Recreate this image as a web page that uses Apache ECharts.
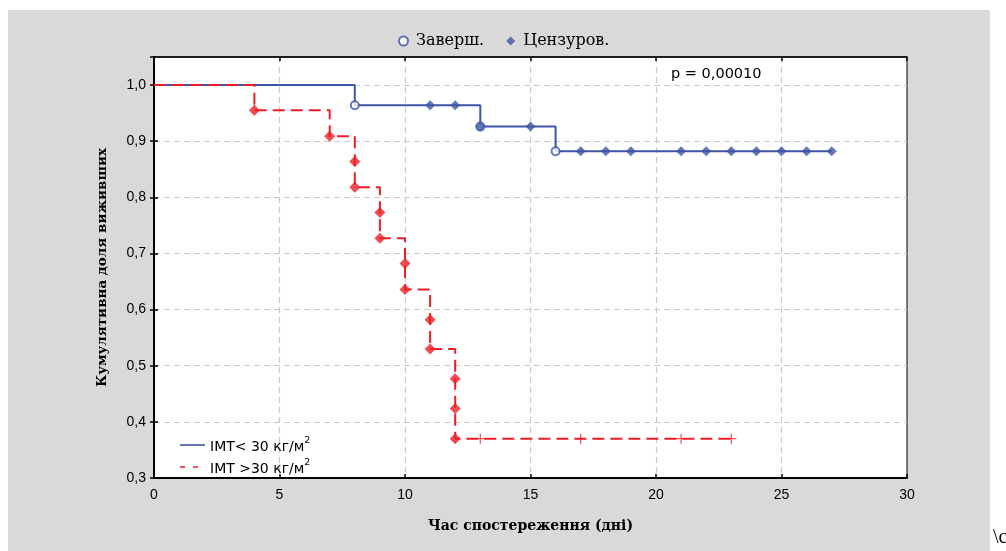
<!DOCTYPE html>
<html>
<head>
<meta charset="utf-8">
<script src="https://cdn.jsdelivr.net/npm/echarts@6/dist/echarts.min.js"></script>
<style>
html,body{margin:0;padding:0;background:#fff;}
#chart{width:1006px;height:551px;}
</style>
</head>
<body>
<div id="chart"></div>
<script>
// ---- data ----
var xTicks = [0, 5, 10, 15, 20, 25, 30];
var yTicks = [0.3, 0.4, 0.5, 0.6, 0.7, 0.8, 0.9, 1.0];

// group IMT < 30: step curve (time, survival)
var lowStep = [[0, 1.0], [8, 0.964], [13, 0.926], [16, 0.882], [27, 0.882]];
var lowEvents = [[8, 0.964], [13, 0.926], [16, 0.882]];
var lowCensored = [[11, 0.964], [12, 0.964], [13, 0.926], [15, 0.926],
  [17, 0.882], [18, 0.882], [19, 0.882], [21, 0.882], [22, 0.882], [23, 0.882],
  [24, 0.882], [25, 0.882], [26, 0.882], [27, 0.882]];

// group IMT > 30
var highStep = [[0, 1.0], [4, 0.955], [7, 0.909], [8, 0.818], [9, 0.727],
  [10, 0.636], [11, 0.530], [12, 0.370], [23, 0.370]];
var highEvents = [[4, 0.955], [7, 0.909], [8, 0.864], [8, 0.818], [9, 0.773],
  [9, 0.727], [10, 0.682], [10, 0.636], [11, 0.582], [11, 0.530],
  [12, 0.477], [12, 0.424], [12, 0.370]];
var highCensored = [[13, 0.370], [17, 0.370], [21, 0.370], [23, 0.370]];

var pText = 'p = 0,00010';

// ---- style ----
var BLUE = '#3d55a5';
var RED = '#ec1f27';
var GRID = '#c9c9c9';
var SANS = '"Liberation Sans", Arial, sans-serif';
var WSANS = '"DejaVu Sans", "Liberation Sans", sans-serif';
var SERIF = '"DejaVu Serif", "Liberation Serif", serif';
var plusPath = 'path://M0,4.4H10V5.6H0Z M4.4,0H5.6V10H4.4Z';
var solidIcon = 'path://M0,0H25V1.6H0Z';
var dashIcon = 'path://M0,0H5V1.6H0Z M13,0H18V1.6H13Z M24.9,0H25V1.6H24.9Z';

var chart = echarts.init(document.getElementById('chart'), null, {renderer: 'canvas'});

function fmtY(v) {
  return (Math.round(v * 10) / 10).toFixed(1).replace('.', ',');
}

var splitStyle = {show: true, showMinLine: false, showMaxLine: false,
  lineStyle: {color: GRID, width: 1.2, type: [6, 4]}};

var option = {
  backgroundColor: '#ffffff',
  animation: false,
  graphic: [
    {type: 'rect', z: -10, silent: true, shape: {x: 8, y: 10, width: 982, height: 541}, style: {fill: '#d9d9d9'}},
    {type: 'text', left: 671, top: 67, z: 10, style: {text: pText, font: '14.5px ' + WSANS, fill: '#000'}},
    {type: 'text', left: 993, top: 528, z: 10, style: {text: '\\с', font: '20px "Liberation Serif", serif', fill: '#000'}}
  ],
  legend: [
    {
      data: [
        {name: 'Заверш.', icon: 'circle', itemStyle: {color: '#fff', borderColor: BLUE, borderWidth: 2}},
        {name: 'Цензуров.', icon: 'diamond', itemStyle: {color: BLUE}}
      ],
      left: 393, top: 28,
      itemWidth: 9, itemHeight: 9, itemGap: 22,
      textStyle: {fontFamily: SERIF, fontSize: 16, color: '#000', padding: [0, 0, 0, 3]}
    },
    {
      data: [
        {name: 'IMT< 30 кг/м2', icon: solidIcon},
        {name: 'IMT >30 кг/м2', icon: dashIcon}
      ],
      orient: 'vertical',
      left: 175, top: 431,
      itemWidth: 25, itemHeight: 1.6, itemGap: 4,
      formatter: function (name) {
        return '{a|' + name.slice(0, -1) + '}{s|2}';
      },
      textStyle: {
        fontFamily: WSANS, fontSize: 14, color: '#000', padding: [0, 0, 0, 0],
        rich: {
          a: {fontFamily: WSANS, fontSize: 14, color: '#000', lineHeight: 18, verticalAlign: 'bottom'},
          s: {fontFamily: WSANS, fontSize: 9.5, color: '#000', lineHeight: 18, verticalAlign: 'top'}
        }
      }
    }
  ],
  grid: {
    left: 154, right: 99, top: 57, bottom: 73,
    show: true, backgroundColor: '#ffffff', borderColor: '#000', borderWidth: 1
  },
  xAxis: [
    {
      type: 'value', min: xTicks[0], max: xTicks[xTicks.length - 1], interval: 5,
      name: 'Час спостереження (дні)', nameLocation: 'middle', nameGap: 41,
      nameTextStyle: {fontFamily: SERIF, fontSize: 14, fontWeight: 'bold', color: '#000'},
      axisLine: {show: true, lineStyle: {color: '#000', width: 2}},
      axisTick: {show: true, inside: true, length: 4, lineStyle: {color: '#000', width: 1.5}},
      axisLabel: {fontFamily: SANS, fontSize: 14, color: '#000', margin: 10},
      splitLine: splitStyle
    },
    {
      type: 'value', position: 'top', min: 0, max: 30, interval: 5,
      axisLine: {show: true, lineStyle: {color: '#000', width: 1.5}},
      axisTick: {show: true, inside: true, length: 4, lineStyle: {color: '#000', width: 1.5}},
      axisLabel: {show: false}, splitLine: {show: false}
    }
  ],
  yAxis: [
    {
      type: 'value', min: yTicks[0], max: 1.05, interval: 0.1,
      name: 'Кумулятивна доля виживших', nameLocation: 'middle', nameGap: 45,
      nameTextStyle: {fontFamily: SERIF, fontSize: 13.5, fontWeight: 'bold', color: '#000'},
      axisLine: {show: true, lineStyle: {color: '#000', width: 2}},
      axisTick: {show: true, inside: true, length: 4, lineStyle: {color: '#000', width: 1.5}},
      axisLabel: {
        fontFamily: SANS, fontSize: 14, color: '#000', margin: 8, showMaxLabel: false,
        formatter: fmtY
      },
      splitLine: splitStyle
    },
    {
      type: 'value', position: 'right', min: 0.3, max: 1.05, interval: 0.1,
      axisLine: {show: true, lineStyle: {color: '#000', width: 2}},
      axisTick: {show: true, inside: true, length: 4, lineStyle: {color: '#000', width: 1.5}},
      axisLabel: {show: false}, splitLine: {show: false}
    }
  ],
  series: [
    {
      name: 'IMT< 30 кг/м2', type: 'line', step: 'end', data: lowStep,
      symbol: 'none', color: BLUE, lineStyle: {color: BLUE, width: 2}, z: 3
    },
    {
      name: 'IMT >30 кг/м2', type: 'line', step: 'end', data: highStep,
      symbol: 'none', color: RED, lineStyle: {color: RED, width: 2, type: [12, 6]}, z: 3
    },
    {
      name: 'Заверш.', type: 'scatter', data: lowEvents, symbol: 'circle', symbolSize: 8,
      itemStyle: {color: '#fff', borderColor: BLUE, borderWidth: 2}, z: 4
    },
    {
      name: 'Цензуров.', type: 'scatter', data: lowCensored, symbol: 'diamond', symbolSize: 10,
      itemStyle: {color: BLUE}, z: 5
    },
    {
      name: 'highEvents', type: 'scatter', data: highEvents, symbol: 'diamond', symbolSize: 11,
      itemStyle: {color: RED}, z: 5
    },
    {
      name: 'highCensored', type: 'scatter', data: highCensored, symbol: plusPath, symbolSize: 10,
      itemStyle: {color: RED}, z: 5
    }
  ]
};
chart.setOption(option);
</script>
</body>
</html>
